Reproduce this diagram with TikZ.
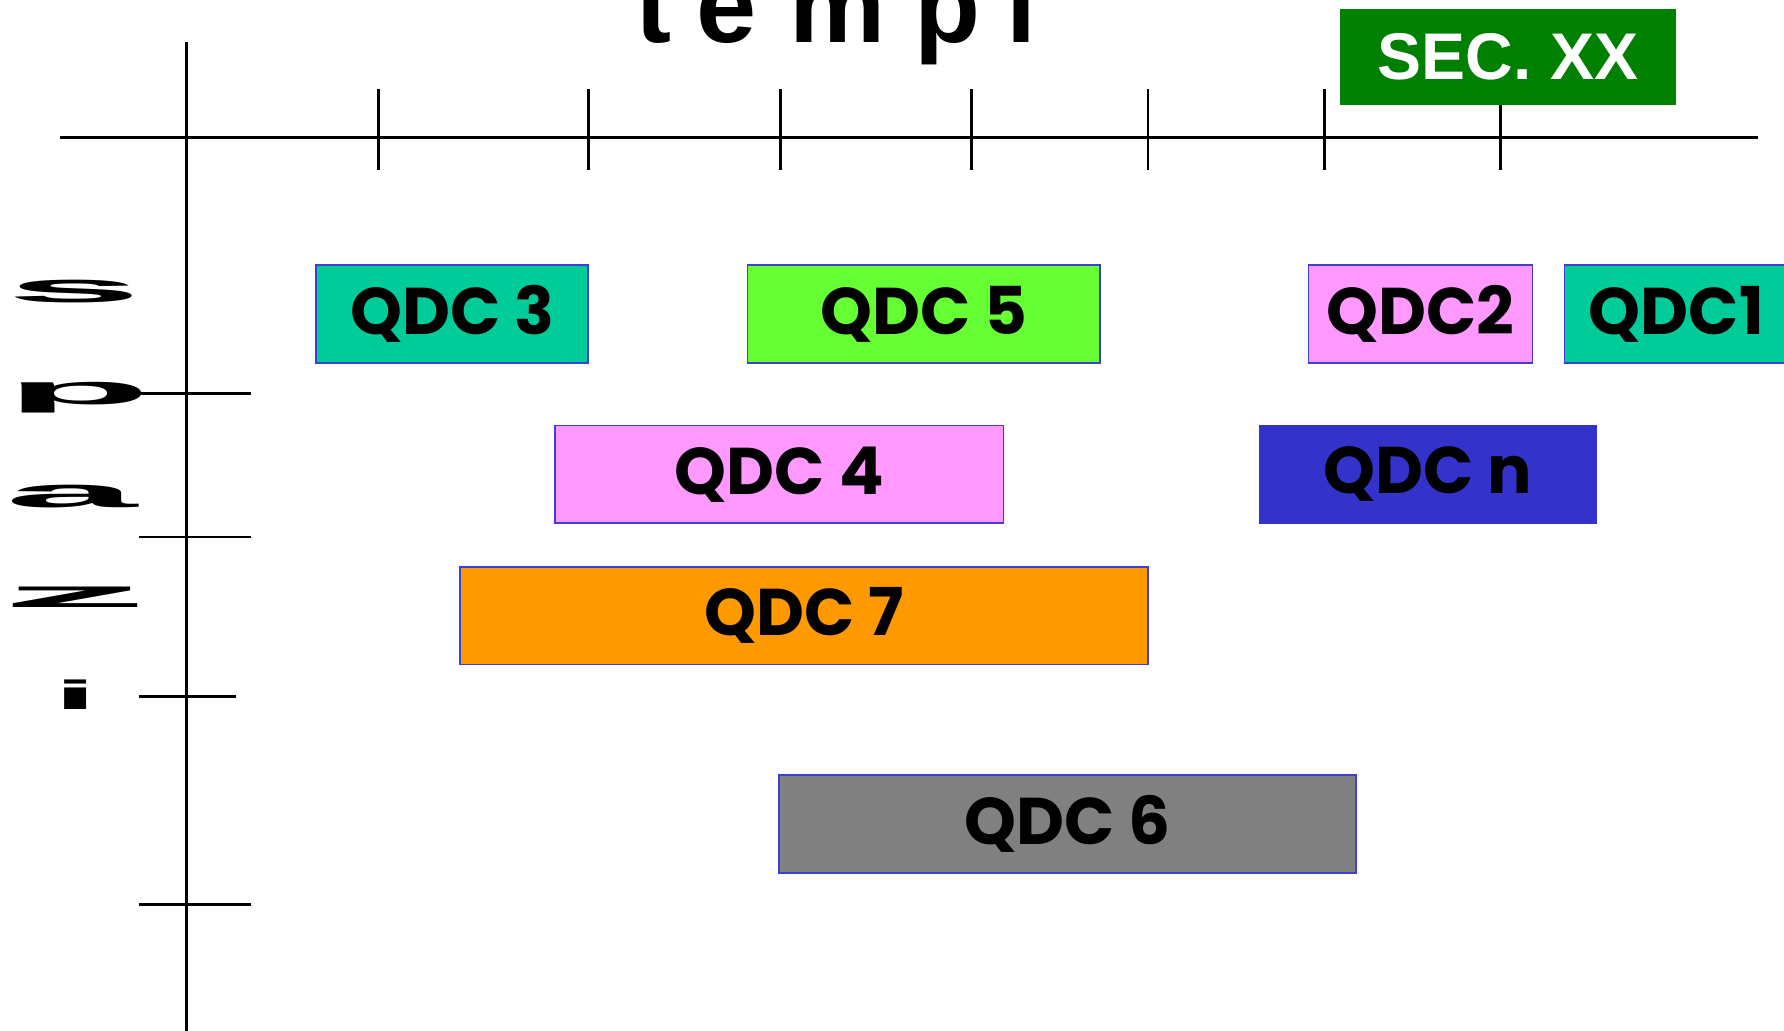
\documentclass[tikz,border=0pt]{standalone}
\usepackage{fontspec}
\setmainfont{Liberation Sans}
\newfontfamily\qdcfont{Poppins}
\definecolor{qteal}{HTML}{00CC99}
\definecolor{qgreen}{HTML}{66FF33}
\definecolor{qpink}{HTML}{FF99FF}
\definecolor{qblue}{HTML}{3333CC}
\definecolor{qorange}{HTML}{FF9900}
\definecolor{qgray}{HTML}{808080}
\definecolor{qborder}{HTML}{4040D0}
\definecolor{secgreen}{HTML}{008000}
\begin{document}
\begin{tikzpicture}[x=1pt,y=-1pt,
  axis/.style={line width=2.5pt,black},
  qbox/.style={draw=qborder,line width=1.6pt,inner sep=0pt,minimum height=86pt,
     font=\qdcfont\bfseries\fontsize{58}{58}\selectfont,text=black},
  axlbl/.style={inner sep=0pt,font=\bfseries\fontsize{95}{95}\selectfont,anchor=base},
  vlbl/.style={inner sep=0pt}]
\useasboundingbox (0,0) rectangle (1568,906);
\begin{scope}
\clip (0,0) rectangle (1568,906);
% axes
\draw[axis] (53,121) -- (1545,121);
\draw[axis] (164,37) -- (164,906);
\foreach \xx in {333,517,686,854,1009,1164,1319}
  \draw[axis] (\xx,78) -- (\xx,149);
\draw[axis] (121,346) -- (221,346);
\draw[axis] (122,472) -- (221,472);
\draw[axis] (122,612) -- (207,612);
\draw[axis] (122,795) -- (221,795);
% title tempi
\node[axlbl] (t1) at (574,37.5) {t};
\node[axlbl] (t2) at (639,37.5) {e};
\node[axlbl] (t3) at (736,37.5) {m};
\node[axlbl] (t4) at (833,37.5) {p};
\node[axlbl] (t5) at (897.5,37.5) {i};
% vertical label spazi
\node[vlbl] (s1) at (65.5,256) {\resizebox*{119pt}{20pt}{\bfseries s}};
\node[vlbl] (s2) at (69,349.5) {\resizebox*{128pt}{27pt}{\bfseries p}};
\node[vlbl] (s3) at (63,436) {\resizebox*{116pt}{20pt}{\bfseries a}};
\node[vlbl] (s4) at (66,525) {\resizebox*{129pt}{18pt}{\bfseries z}};
\node[vlbl] (s5) at (66.5,611) {\resizebox*{39pt}{26pt}{\bfseries i}};
% SEC box
\node[fill=secgreen,minimum width=295pt,minimum height=84pt,inner sep=0pt,
  text=white,font=\bfseries\fontsize{58}{58}\selectfont] (sec) at (1325.5,50) {SEC. XX};
% QDC boxes
\node[qbox,fill=qteal,minimum width=239pt] (q3) at (397.5,276) {QDC 3};
\node[qbox,fill=qgreen,minimum width=310pt] (q5) at (812,276) {QDC 5};
\node[qbox,fill=qpink,minimum width=197pt] (q2) at (1248.5,276) {QDC2};
\node[qbox,fill=qteal,minimum width=197pt] (q1) at (1473.5,276) {QDC1};
\node[qbox,fill=qpink,minimum width=394pt] (q4) at (685,417) {QDC 4};
\node[qbox,fill=qblue,minimum width=296pt,draw=qblue] (qn) at (1255,417) {QDC n};
\node[qbox,fill=qorange,minimum width=605pt] (q7) at (706.5,541) {QDC 7};
\node[qbox,fill=qgray,minimum width=507pt] (q6) at (938.5,724) {QDC 6};
\end{scope}
\end{tikzpicture}
\end{document}
